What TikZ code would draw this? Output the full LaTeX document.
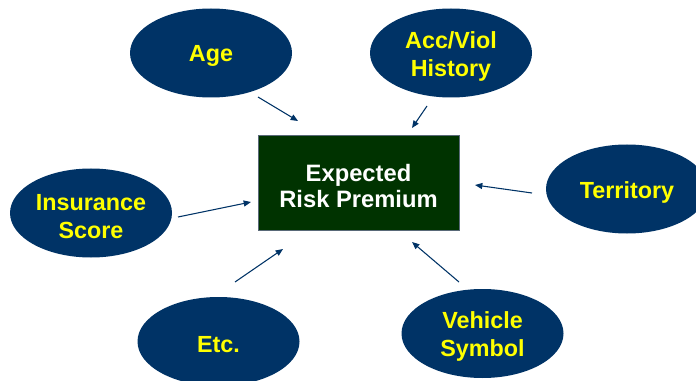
\documentclass[tikz,border=0pt]{standalone}
\usepackage{fontspec}
\setmainfont{Liberation Sans}
\usetikzlibrary{arrows.meta,shapes.geometric}

\definecolor{navy}{RGB}{0,51,102}
\definecolor{boxgreen}{RGB}{0,51,0}
\definecolor{txtyellow}{RGB}{255,255,0}

\tikzset{
	factortext/.style={yshift=-2.5pt,inner sep=0pt,text=txtyellow,align=center,
		font=\fontsize{17.5}{21}\selectfont\bfseries},
	factor/.style={ellipse,fill=navy,minimum width=121.5pt,minimum height=66.75pt,inner sep=0pt,
		label={[factortext]center:#1}},
	targettext/.style={yshift=-3pt,inner sep=0pt,text=white,align=center,
		font=\fontsize{17.8}{19.5}\selectfont\bfseries},
	target/.style={rectangle,fill=boxgreen,draw=gray!70!navy,line width=0.5pt,minimum width=150.75pt,minimum height=71.25pt,
		label={[targettext]center:#1}},
	pfeil/.style={draw=navy,line width=0.8pt,-{Triangle[length=5.5pt,width=4.5pt]}}
}

\begin{document}
\begin{tikzpicture}[x=0.75pt,y=-0.75pt]

	\useasboundingbox (0,0) rectangle (696,381);

	% Zielgroesse
	\node (premium) at (358.5,182.5) [target={Expected\\Risk Premium}] {};

	% Merkmale
	\node (age) at (211,53) [factor=Age] {};
	\node (hist) at (451,53) [factor={Acc/Viol\\History}] {};
	\node (terr) at (627,189) [factor=Territory] {};
	\node (score) at (91,213) [factor={Insurance\\Score}] {};
	\node (etc) at (218.5,341.5) [factor=Etc.] {};
	\node (veh) at (482.5,333.5) [factor={Vehicle\\Symbol}] {};

	% Pfeile
	\coordinate (a1) at (258,97);   \coordinate (a2) at (298,121);
	\coordinate (h1) at (427,106);  \coordinate (h2) at (412,128);
	\coordinate (t1) at (532,193);  \coordinate (t2) at (475,185);
	\coordinate (s1) at (178,217);  \coordinate (s2) at (251,202);
	\coordinate (e1) at (235,282);  \coordinate (e2) at (283,249);
	\coordinate (v1) at (459,282);  \coordinate (v2) at (412,242);

	\draw[pfeil] (a1) -- (a2);
	\draw[pfeil] (h1) -- (h2);
	\draw[pfeil] (t1) -- (t2);
	\draw[pfeil] (s1) -- (s2);
	\draw[pfeil] (e1) -- (e2);
	\draw[pfeil] (v1) -- (v2);

\end{tikzpicture}
\end{document}
